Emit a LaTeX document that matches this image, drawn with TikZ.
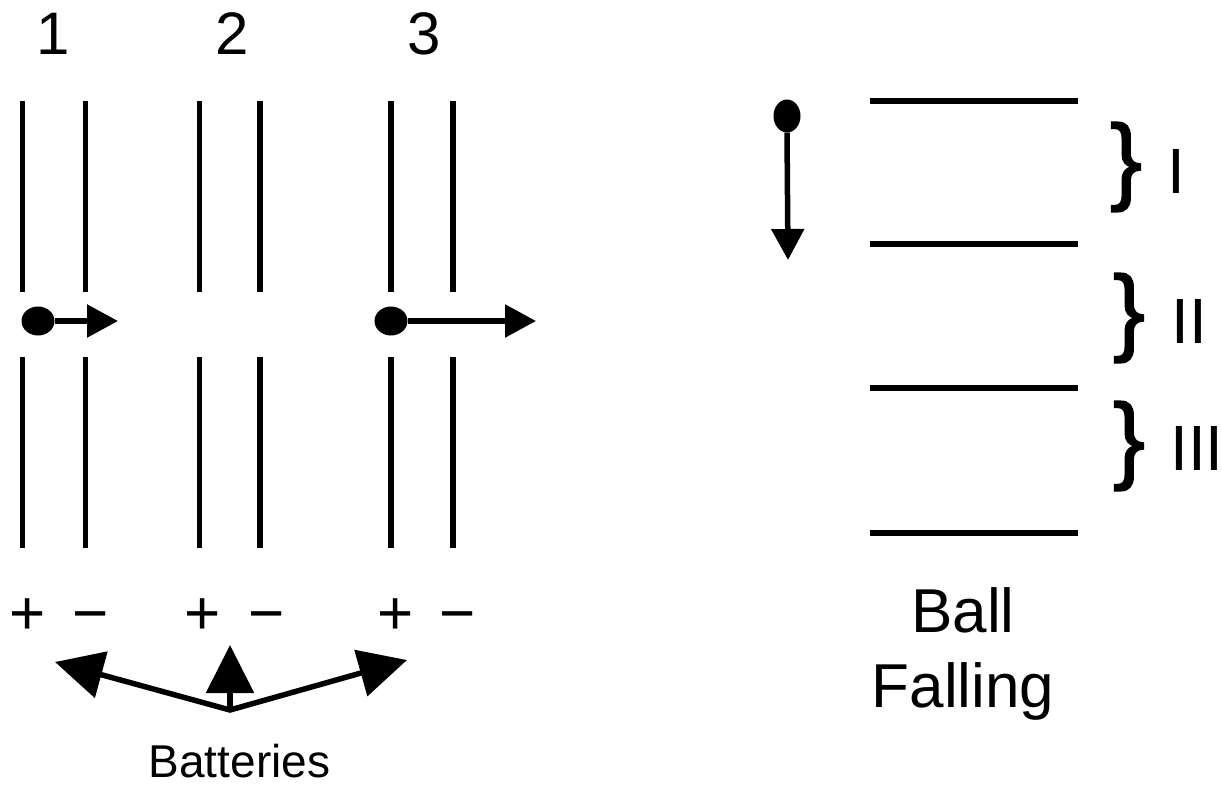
\documentclass[tikz,border=0pt]{standalone}
\usepackage{fontspec}
\setmainfont{Liberation Sans}
\newfontfamily\bracefam{Liberation Sans}[FakeBold=1.6]
\usetikzlibrary{arrows.meta,shapes.geometric}
\begin{document}
\begin{tikzpicture}[x=1pt,y=-1pt,
  plate/.style={line width=5.5pt},
  level/.style={line width=5.5pt},
  ball/.style={ellipse,fill=black,inner sep=0pt},
  arr/.style={line width=5.5pt,-{Triangle[length=31pt,width=32pt]}},
  bigtip/.style={line width=5.5pt,line join=miter},
  lbl/.style={inner sep=0pt,anchor=base},
  bigfont/.style={font=\fontsize{60}{72}\selectfont},
  signfont/.style={font=\fontsize{62}{72}\selectfont},
  batfont/.style={font=\fontsize{46}{54}\selectfont},
  fallfont/.style={font=\fontsize{62}{72}\selectfont},
  rom/.style={inner sep=0pt,anchor=base west,font=\fontsize{64}{72}\selectfont},
  bracefont/.style={inner sep=0pt,anchor=center,font=\bracefam\fontsize{96}{100}\selectfont}
]
\useasboundingbox (0,0) rectangle (1222,784);

% plate labels
\node[lbl,bigfont] (n1) at (53,55) {1};
\node[lbl,bigfont] (n2) at (232,55) {2};
\node[lbl,bigfont] (n3) at (424,55) {3};

% plates
\foreach \px in {22.5,85.5,199.5,260,391,453}{
  \draw[plate] (\px,101) -- (\px,292);
  \draw[plate] (\px,357) -- (\px,548);
}

% signs
\node[lbl,signfont] (p1) at (28,634) {+};
\node[lbl,signfont] (m1) at (91,634) {\char"2212};
\node[lbl,signfont] (p2) at (203,634) {+};
\node[lbl,signfont] (m2) at (267,634) {\char"2212};
\node[lbl,signfont] (p3) at (396,634) {+};
\node[lbl,signfont] (m3) at (458,634) {\char"2212};

% balls between plates
\node[ball,minimum width=33pt,minimum height=29pt] (b1) at (38,321) {};
\coordinate (t1) at (118,321);
\draw[arr] (b1.east) -- (t1);
\node[ball,minimum width=33pt,minimum height=29pt] (b3) at (391,321) {};
\coordinate (t3) at (536,321);
\draw[arr] (b3.east) -- (t3);

% batteries
\coordinate (bo) at (230,710);
\coordinate (bl) at (55,662);
\coordinate (bm) at (230,645);
\coordinate (br) at (407,660);
\draw[bigtip,{Triangle[length=48pt,width=47pt]}-{Triangle[length=48pt,width=47pt]}] (bl) -- (bo) -- (br);
\draw[bigtip,-{Triangle[length=48pt,width=47pt]}] (bo) -- (bm);
\node[lbl,batfont] (bat) at (239.5,777) {Batteries};

% falling ball
\node[ball,minimum width=27pt,minimum height=33pt] (bf) at (787,116) {};
\coordinate (tf) at (788,260);
\draw[arr] (bf.south) -- (tf);

% levels
\foreach \ly in {101,244,388,533}{
  \draw[level] (870,\ly) -- (1078,\ly);
}

% braces and numerals
\node[bracefont] (br1) at (1126,167) {\}};
\node[bracefont] (br2) at (1129,318) {\}};
\node[bracefont] (br3) at (1129,446) {\}};
\node[rom] (r1) at (1167,193) {I};
\node[rom] (r2) at (1171,343) {II};
\node[rom] (r3) at (1170,470) {III};

% caption
\node[lbl,fallfont] (ball) at (963,632) {Ball};
\node[lbl,fallfont] (falling) at (963,707) {Falling};
\end{tikzpicture}
\end{document}
